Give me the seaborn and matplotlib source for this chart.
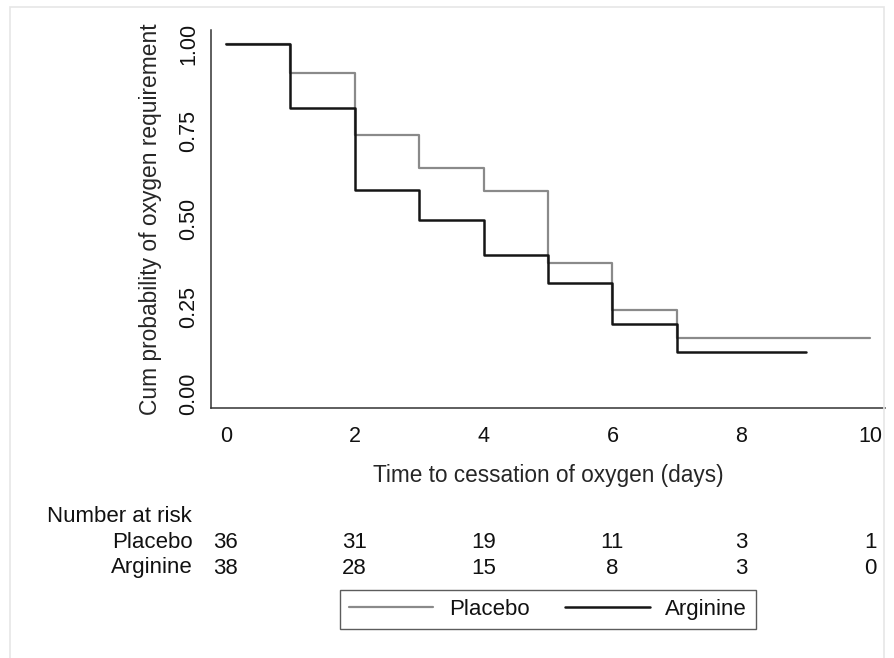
import matplotlib
matplotlib.use("Agg")
import matplotlib.pyplot as plt
import matplotlib.transforms as mtransforms
from matplotlib.lines import Line2D
from matplotlib.patches import Rectangle
import numpy as np
import pandas as pd
import seaborn as sns

# ---- data ----
groups = ["Placebo", "Arginine"]
placebo_time = [0, 1, 2, 3, 4, 5, 6, 7, 10]
placebo_surv = [1.0, 0.917, 0.741, 0.647, 0.579, 0.375, 0.239, 0.159, 0.159]
arginine_time = [0, 1, 2, 3, 4, 5, 6, 7, 9]
arginine_surv = [1.0, 0.816, 0.582, 0.497, 0.398, 0.317, 0.199, 0.119, 0.119]
risk_times = [0, 2, 4, 6, 8, 10]
placebo_risk = [36, 31, 19, 11, 3, 1]
arginine_risk = [38, 28, 15, 8, 3, 0]
x_ticks = [0, 2, 4, 6, 8, 10]
y_ticks = [0.0, 0.25, 0.5, 0.75, 1.0]
colors = {"Placebo": "#8a8a8a", "Arginine": "#151515"}

df = pd.concat([
    pd.DataFrame({"time": placebo_time, "surv": placebo_surv, "group": "Placebo"}),
    pd.DataFrame({"time": arginine_time, "surv": arginine_surv, "group": "Arginine"}),
], ignore_index=True)

sns.set_theme(style="white")
plt.rcParams["font.family"] = ["Liberation Sans", "DejaVu Sans"]
plt.rcParams["text.color"] = "#111111"

W, H = 895, 658
fig = plt.figure(figsize=(W / 100, H / 100), dpi=100)
fig.patch.set_facecolor("white")

def fx(px):
    return px / W

def fy(py):
    return 1 - py / H

ax = fig.add_axes([fx(211), fy(408), fx(885) - fx(211), fy(30) - fy(408)])

for g in groups:
    sub = df[df.group == g]
    sns.lineplot(data=sub, x="time", y="surv", ax=ax, color=colors[g],
                 drawstyle="steps-post", estimator=None, sort=False,
                 linewidth=1.6 if g == "Placebo" else 1.8, legend=False)

ax.set_xlim(-0.23, 10.23)
ax.set_ylim(-0.04, 1.04)
ax.set_xticks(x_ticks)
ax.set_xticklabels([str(t) for t in x_ticks])
ax.set_yticks(y_ticks)
ax.set_yticklabels([f"{v:.2f}" for v in y_ticks], rotation=90, va="center")
for s in ["top", "right"]:
    ax.spines[s].set_visible(False)
for s in ["left", "bottom"]:
    ax.spines[s].set_color("#333333")
    ax.spines[s].set_linewidth(1.1)
ax.tick_params(axis="both", which="both", direction="out", length=6.5, width=1.1,
               color="#333333", labelsize=15.5, labelcolor="#111111")
ax.tick_params(axis="x", pad=6.5)
ax.tick_params(axis="y", pad=2)
ax.set_xlabel("Time to cessation of oxygen (days)", fontsize=16.3, labelpad=12)
ax.set_ylabel("Cum probability of oxygen requirement", fontsize=16.4, labelpad=12)
ax.grid(False)

# ---- number at risk table ----
FS = 16
trans = mtransforms.blended_transform_factory(ax.transData, fig.transFigure)
fig.text(fx(47), fy(517), "Number at risk", fontsize=FS, ha="left", va="center")
fig.text(fx(193), fy(543), "Placebo", fontsize=FS, ha="right", va="center")
fig.text(fx(193), fy(568), "Arginine", fontsize=FS, ha="right", va="center")
for t, n in zip(risk_times, placebo_risk):
    ax.text(t, fy(543), str(n), transform=trans, fontsize=FS, ha="center", va="center")
for t, n in zip(risk_times, arginine_risk):
    ax.text(t, fy(568), str(n), transform=trans, fontsize=FS, ha="center", va="center")

# ---- legend ----
handles = [Line2D([], [], color=colors[g], linewidth=1.6 if g == "Placebo" else 1.8) for g in groups]
leg = fig.legend(handles, groups, loc="center", bbox_to_anchor=(fx(548), fy(609.5)),
                 ncol=2, fontsize=FS, frameon=True, fancybox=False,
                 handlelength=3.8, handletextpad=0.7, columnspacing=1.6,
                 borderpad=0.4, edgecolor="#333333")
leg.get_frame().set_linewidth(1.0)

# outer light frame
fig.patches.append(Rectangle((fx(10), fy(H + 5)), fx(884) - fx(10), fy(7) - fy(H + 5),
                             transform=fig.transFigure, fill=False,
                             edgecolor="#e6e6e6", linewidth=1.2))

fig.savefig("out.png", dpi=100, facecolor="white")
